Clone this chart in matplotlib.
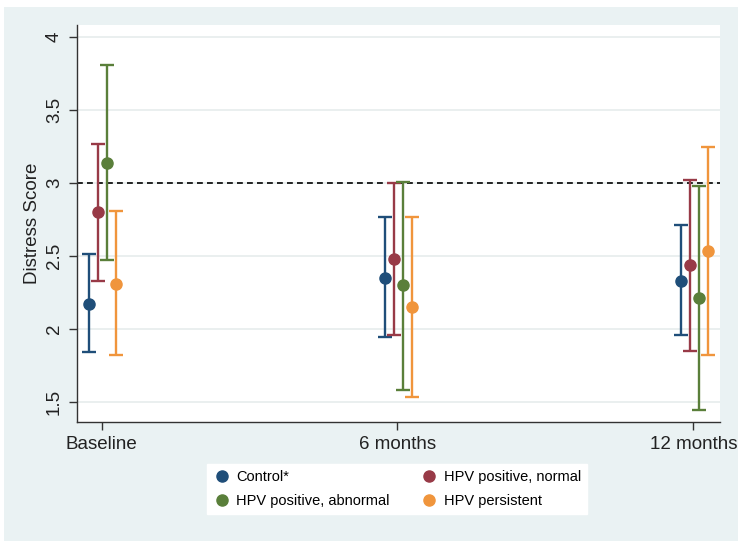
import matplotlib.pyplot as plt
import matplotlib.patches as mpatches
import numpy as np

plt.rcParams['font.family'] = ['Liberation Sans', 'DejaVu Sans']

# data
timepoints = ['Baseline', '6 months', '12 months']
groups = ['Control*', 'HPV positive, normal', 'HPV positive, abnormal', 'HPV persistent']
colors = ['#1F4E79', '#983A47', '#5A7F3A', '#F0953C']

means = {
    'Control*':               [2.17, 2.35, 2.33],
    'HPV positive, normal':   [2.80, 2.48, 2.44],
    'HPV positive, abnormal': [3.14, 2.30, 2.21],
    'HPV persistent':         [2.31, 2.15, 2.53],
}
lower = {
    'Control*':               [1.84, 1.94, 1.96],
    'HPV positive, normal':   [2.33, 1.96, 1.85],
    'HPV positive, abnormal': [2.47, 1.58, 1.44],
    'HPV persistent':         [1.82, 1.53, 1.82],
}
upper = {
    'Control*':               [2.51, 2.77, 2.71],
    'HPV positive, normal':   [3.27, 3.00, 3.02],
    'HPV positive, abnormal': [3.81, 3.01, 2.98],
    'HPV persistent':         [2.81, 2.77, 3.25],
}
offsets = [-0.042, -0.011, 0.018, 0.049]
threshold = 3.0

fig = plt.figure(figsize=(7.41, 5.48), dpi=100, facecolor='white')
# light blue Stata-like background panel
bg = mpatches.Rectangle((4/741, 7/548), 734/741, 534/548, transform=fig.transFigure,
                        facecolor='#EAF2F3', edgecolor='none', zorder=-10)
fig.add_artist(bg)

ax = fig.add_axes([77/741, 1 - 421.7/548, 643/741, 396.7/548])
ax.set_facecolor('white')

x = np.arange(len(timepoints))
for g, c, off in zip(groups, colors, offsets):
    m = np.array(means[g])
    lo = np.array(lower[g])
    hi = np.array(upper[g])
    ax.errorbar(x + off, m, yerr=[m - lo, hi - m], fmt='o', color=c, ecolor=c,
                elinewidth=1.7, capsize=5, capthick=1.7, markersize=8, label=g, zorder=3)

ax.axhline(threshold, color='black', linestyle=(0, (3.5, 2.5)), linewidth=1.2, zorder=2)

ax.set_xlim(-0.083, 2.09)
ax.set_ylim(1.362, 4.084)
ax.set_xticks(x)
ax.set_xticklabels(timepoints, fontsize=13.5, color='#222222')
yt = [1.5, 2, 2.5, 3, 3.5, 4]
ax.set_yticks(yt)
ax.set_yticklabels(['1.5', '2', '2.5', '3', '3.5', '4'], rotation=90, va='center',
                   fontsize=13.5, color='#222222')
ax.grid(axis='y', color='#E6ECEC', linewidth=1.2, zorder=0)
ax.set_axisbelow(True)
ax.set_ylabel('Distress Score', fontsize=13.5, color='#222222', labelpad=4)

for s in ['top', 'right']:
    ax.spines[s].set_visible(False)
for s in ['left', 'bottom']:
    ax.spines[s].set_color('#333333')
    ax.spines[s].set_linewidth(1.0)
ax.tick_params(axis='both', length=6, color='#333333', width=1.0, pad=4)

# legend filled column-wise, so reorder to get rows: Control/normal, abnormal/persistent
order = [0, 2, 1, 3]
handles = [plt.Line2D([], [], marker='o', linestyle='', color=colors[i], markersize=8) for i in order]
labels = [groups[i] for i in order]
leg = fig.legend(handles, labels, ncol=2, loc='center',
                 bbox_to_anchor=(397/741, 1 - 489/548), frameon=True, fancybox=False,
                 framealpha=1, fontsize=10.5, handletextpad=0.4, columnspacing=2.1,
                 labelspacing=0.65, borderpad=0.4, handlelength=1.2)
leg.get_frame().set_edgecolor('white')
leg.get_frame().set_facecolor('white')

plt.savefig('out.png', dpi=100, facecolor=fig.get_facecolor())
